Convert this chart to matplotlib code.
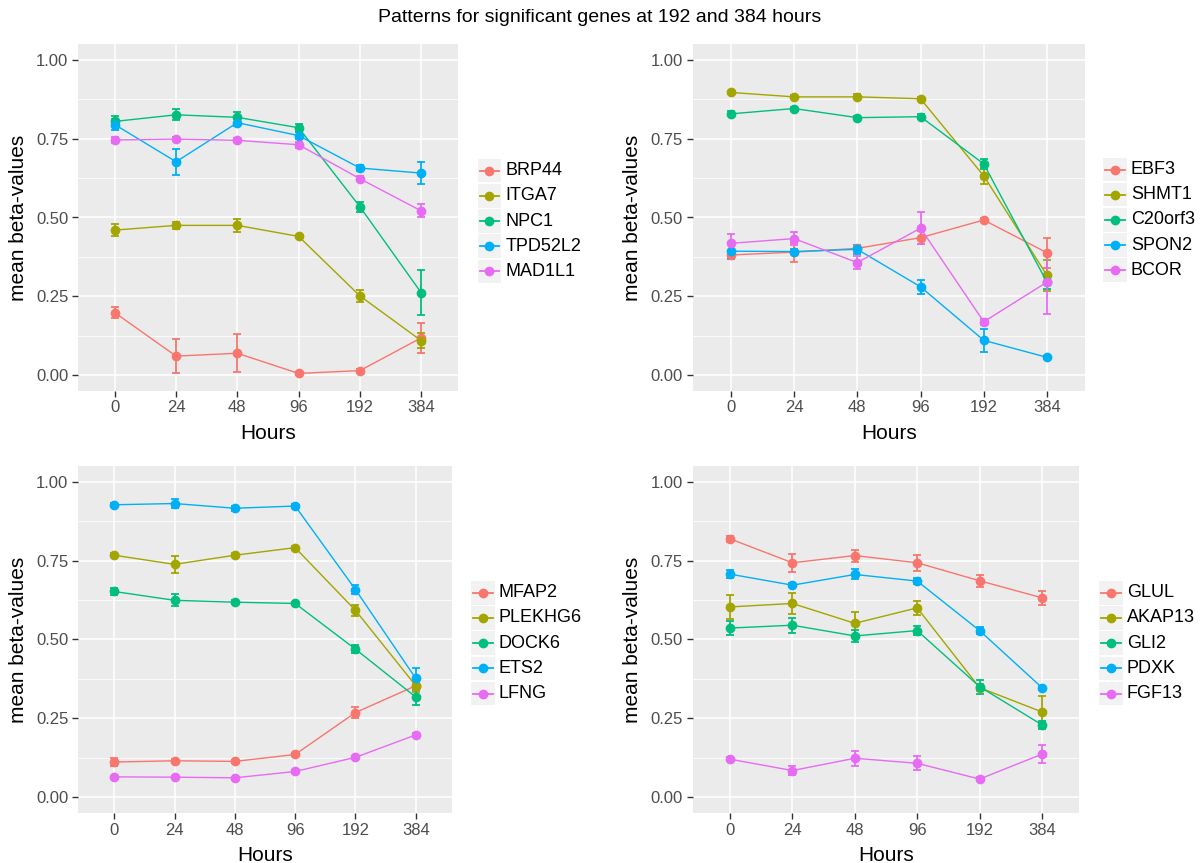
import numpy as np
import matplotlib
matplotlib.use("Agg")
import matplotlib.pyplot as plt
from matplotlib.patches import Rectangle
from matplotlib.lines import Line2D

plt.rcParams['font.family'] = ['Liberation Sans', 'DejaVu Sans']

# Data
hours = ["0", "24", "48", "96", "192", "384"]
colors = ["#F8766D", "#A3A500", "#00BF7D", "#00B0F6", "#E76BF3"]

genes_a = ["BRP44", "ITGA7", "NPC1", "TPD52L2", "MAD1L1"]
mean_a = [
    [0.198, 0.060, 0.069, 0.005, 0.014, 0.118],
    [0.460, 0.475, 0.475, 0.440, 0.251, 0.109],
    [0.805, 0.826, 0.818, 0.785, 0.534, 0.261],
    [0.795, 0.677, 0.801, 0.760, 0.657, 0.641],
    [0.746, 0.749, 0.745, 0.731, 0.623, 0.521],
]
err_a = [
    [0.018, 0.054, 0.060, 0.004, 0.005, 0.047],
    [0.019, 0.010, 0.020, 0.005, 0.020, 0.023],
    [0.018, 0.018, 0.016, 0.013, 0.015, 0.072],
    [0.018, 0.042, 0.012, 0.010, 0.010, 0.035],
    [0.008, 0.006, 0.006, 0.010, 0.008, 0.021],
]

genes_b = ["EBF3", "SHMT1", "C20orf3", "SPON2", "BCOR"]
mean_b = [
    [0.381, 0.390, 0.402, 0.436, 0.492, 0.388],
    [0.897, 0.883, 0.883, 0.877, 0.632, 0.316],
    [0.829, 0.846, 0.817, 0.820, 0.670, 0.294],
    [0.393, 0.392, 0.399, 0.280, 0.110, 0.056],
    [0.418, 0.433, 0.357, 0.466, 0.169, 0.295],
]
err_b = [
    [0.010, 0.030, 0.010, 0.020, 0.005, 0.048],
    [0.005, 0.005, 0.008, 0.006, 0.025, 0.050],
    [0.008, 0.006, 0.005, 0.008, 0.015, 0.020],
    [0.025, 0.008, 0.015, 0.023, 0.036, 0.004],
    [0.029, 0.020, 0.020, 0.050, 0.010, 0.100],
]

genes_c = ["MFAP2", "PLEKHG6", "DOCK6", "ETS2", "LFNG"]
mean_c = [
    [0.111, 0.115, 0.113, 0.135, 0.268, 0.353],
    [0.767, 0.738, 0.767, 0.791, 0.592, 0.353],
    [0.652, 0.624, 0.618, 0.614, 0.469, 0.317],
    [0.927, 0.931, 0.916, 0.923, 0.658, 0.376],
    [0.064, 0.063, 0.061, 0.081, 0.126, 0.197],
]
err_c = [
    [0.012, 0.006, 0.006, 0.006, 0.018, 0.008],
    [0.006, 0.028, 0.006, 0.006, 0.017, 0.020],
    [0.012, 0.019, 0.006, 0.006, 0.012, 0.024],
    [0.006, 0.013, 0.008, 0.006, 0.015, 0.032],
    [0.004, 0.004, 0.004, 0.004, 0.004, 0.006],
]

genes_d = ["GLUL", "AKAP13", "GLI2", "PDXK", "FGF13"]
mean_d = [
    [0.819, 0.743, 0.766, 0.743, 0.686, 0.632],
    [0.603, 0.614, 0.551, 0.600, 0.347, 0.270],
    [0.536, 0.545, 0.511, 0.528, 0.350, 0.229],
    [0.707, 0.672, 0.706, 0.685, 0.528, 0.347],
    [0.120, 0.084, 0.123, 0.107, 0.057, 0.136],
]
err_d = [
    [0.010, 0.029, 0.019, 0.026, 0.019, 0.023],
    [0.038, 0.034, 0.036, 0.022, 0.010, 0.050],
    [0.022, 0.024, 0.020, 0.013, 0.022, 0.013],
    [0.013, 0.006, 0.016, 0.010, 0.010, 0.006],
    [0.006, 0.015, 0.024, 0.022, 0.005, 0.029],
]

W, H = 1200, 863
fig = plt.figure(figsize=(W / 100, H / 100), dpi=100)


def px_axes(left, right, top, bottom):
    return fig.add_axes([left / W, 1 - bottom / H, (right - left) / W, (bottom - top) / H])


panels = [
    (genes_a, mean_a, err_a, (78, 458, 44.25, 390.75), (477.7, 170.7)),
    (genes_b, mean_b, err_b, (692.8, 1085, 44.25, 390.75), (1103, 169.5)),
    (genes_c, mean_c, err_c, (78, 452, 466, 812.8), (471, 592.7)),
    (genes_d, mean_d, err_d, (692.6, 1079.4, 466, 812.8), (1099, 592.7)),
]

x = np.arange(len(hours))
for genes, means, errs, box, leg in panels:
    ax = px_axes(*box)
    ax.set_facecolor("#EBEBEB")
    for s in ax.spines.values():
        s.set_visible(False)
    ax.set_xlim(-0.6, len(hours) - 0.4)
    ax.set_ylim(-0.05, 1.05)
    ax.set_yticks([0, 0.25, 0.5, 0.75, 1.0])
    ax.set_yticklabels(["0.00", "0.25", "0.50", "0.75", "1.00"])
    ax.set_yticks([0.125, 0.375, 0.625, 0.875], minor=True)
    ax.set_xticks(x)
    ax.set_xticklabels(hours)
    ax.grid(True, which="major", color="white", lw=1.1)
    ax.grid(True, which="minor", axis="y", color="white", lw=0.55)
    ax.set_axisbelow(True)
    ax.tick_params(which="major", length=4, width=1, color="#333333",
                   labelcolor="#4D4D4D", labelsize=12, pad=3)
    ax.tick_params(which="minor", length=0)
    ax.set_xlabel("Hours", fontsize=15, labelpad=6)
    ax.set_ylabel("mean beta-values", fontsize=15, labelpad=6)

    for g, m, e, c in zip(genes, means, errs, colors):
        ax.errorbar(x, m, yerr=e, fmt="none", ecolor=c, elinewidth=1.3,
                    capsize=3, capthick=1.3, zorder=3)
        ax.plot(x, m, color=c, lw=1.0, marker="o", ms=6, mec=c, zorder=4)

    # ggplot-like legend drawn in figure pixels
    kx, ky = leg
    for i, (g, c) in enumerate(zip(genes, colors)):
        yc = ky + i * 25.2
        fig.add_artist(Rectangle((kx / W, 1 - (yc + 11.8) / H), 23.5 / W, 23.6 / H,
                                 transform=fig.transFigure, facecolor="#F2F2F2",
                                 edgecolor="none"))
        fig.add_artist(Line2D([(kx + 2) / W, (kx + 21.5) / W], [1 - yc / H, 1 - yc / H],
                              transform=fig.transFigure, color=c, lw=1.3))
        fig.add_artist(Line2D([(kx + 11.75) / W], [1 - yc / H], transform=fig.transFigure,
                              color=c, marker="o", ms=6, lw=0))
        fig.text((kx + 28) / W, 1 - yc / H, g, fontsize=13, va="center", ha="left")

fig.text(0.5, 1 - 18 / H, "Patterns for significant genes at 192 and 384 hours",
         fontsize=14, ha="center", va="center")

fig.savefig("out.png", dpi=100)
